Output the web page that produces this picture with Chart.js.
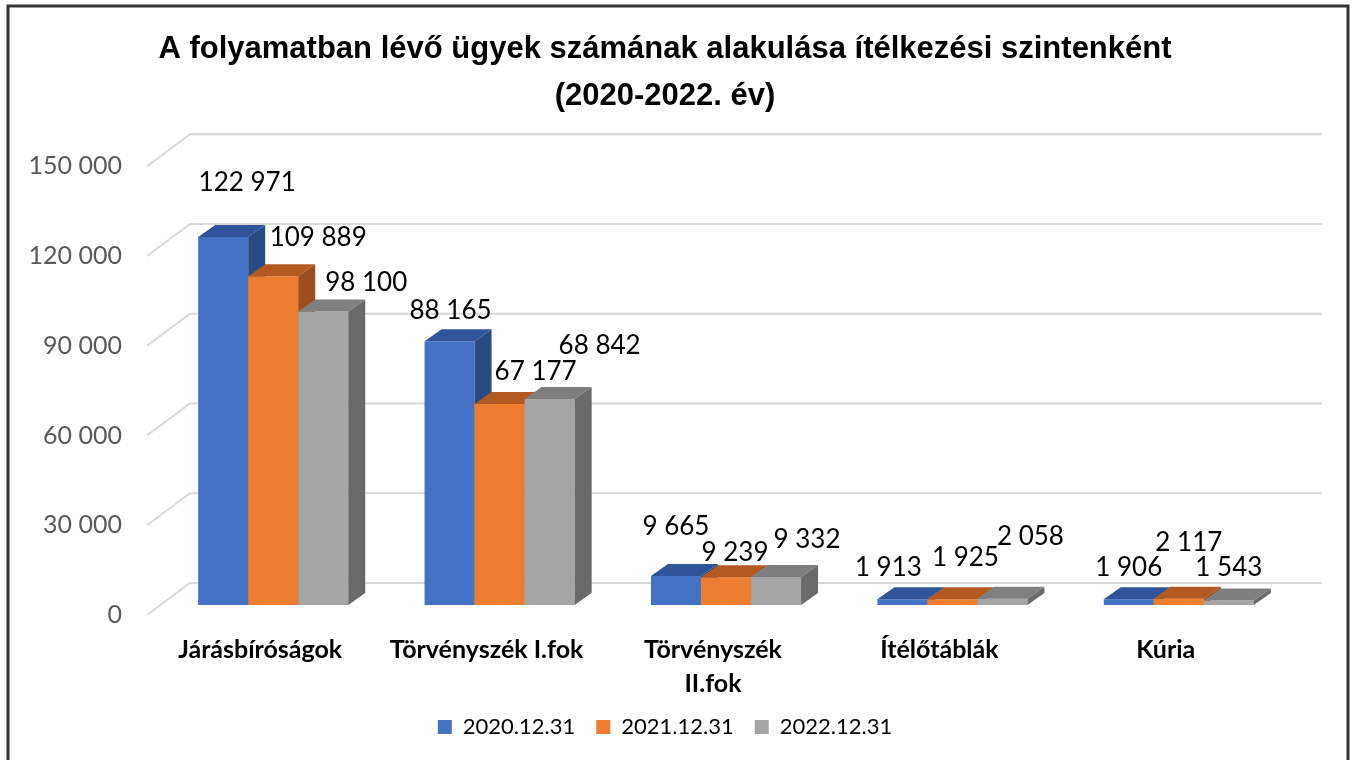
<!DOCTYPE html>
<html lang="hu">
<head>
    <meta charset="UTF-8">
    <title>Folyamatban lévő ügyek</title>
    <script src="https://cdn.jsdelivr.net/npm/chart.js"></script>
    <style>
        body { margin: 0; background: #fff; }
        #wrap { width: 1352px; height: 760px; }
    </style>
</head>
<body>
    <div id="wrap"><canvas id="chart" width="1352" height="760"></canvas></div>
    <script>
        const categories = ['Járásbíróságok', 'Törvényszék I.fok', ['Törvényszék', 'II.fok'], 'Ítélőtáblák', 'Kúria'];
        const seriesNames = ['2020.12.31', '2021.12.31', '2022.12.31'];
        const values2020 = [122971, 88165, 9665, 1913, 1906];
        const values2021 = [109889, 67177, 9239, 1925, 2117];
        const values2022 = [98100, 68842, 9332, 2058, 1543];
        const yTicks = [0, 30000, 60000, 90000, 120000, 150000];

        // front / top / side colours of each series
        const faceColors = [
            ['#4472C4', '#30549A', '#2A4A84'],
            ['#ED7D31', '#B35A22', '#9C4E1D'],
            ['#A5A5A5', '#7F7F7F', '#6A6A6A']
        ];

        // where Excel put each value label, relative to the bar's front top
        const labelNudge = [
            [[24, -54], [1, -31], [0, -49], [-14, -32], [0, -32]],
            [[45, -39], [36, -32], [9, -25], [13, -42], [10, -56]],
            [[43, -29], [50, -53], [31, -37], [28, -62], [0, -33]]
        ];

        const DX = 43, DY = -32;   // depth of the floor / walls
        const BX = 13, BY = -10;   // bar front sits a bit inside
        const TX = 17, TY = -12;   // bar depth

        function fmt(v) {
            return String(v).replace(/\B(?=(\d{3})+(?!\d))/g, ' ');
        }

        function poly(ctx, pts, color) {
            ctx.beginPath();
            ctx.moveTo(pts[0][0], pts[0][1]);
            for (let k = 1; k < pts.length; k++) ctx.lineTo(pts[k][0], pts[k][1]);
            ctx.closePath();
            ctx.fillStyle = color;
            ctx.fill();
        }

        const bars3d = {
            id: 'bars3d',
            beforeDatasetsDraw(chart) {
                const ctx = chart.ctx;
                const ys = chart.scales.y;
                const area = chart.chartArea;

                // back wall grid lines with the side wall diagonal
                ctx.save();
                ctx.strokeStyle = '#d9d9d9';
                ctx.lineWidth = 2;
                yTicks.forEach(v => {
                    const y = ys.getPixelForValue(v);
                    ctx.beginPath();
                    ctx.moveTo(area.left, y);
                    ctx.lineTo(area.left + DX, y + DY);
                    ctx.lineTo(area.right + DX, y + DY);
                    ctx.stroke();
                });

                // 3d bars, left to right so the next bar hides the side face
                for (let j = 0; j < categories.length; j++) {
                    chart.data.datasets.forEach((ds, i) => {
                        const el = chart.getDatasetMeta(i).data[j];
                        const L = el.x - el.width / 2 + BX;
                        const R = el.x + el.width / 2 + BX;
                        const T = el.y + BY;
                        const B = el.base + BY;
                        const c = faceColors[i];
                        poly(ctx, [[L, T], [R, T], [R, B], [L, B]], c[0]);
                        poly(ctx, [[L, T], [R, T], [R + TX, T + TY], [L + TX, T + TY]], c[1]);
                        poly(ctx, [[R, T], [R + TX, T + TY], [R + TX, B + TY], [R, B]], c[2]);
                    });
                }

                // value labels
                ctx.fillStyle = '#000';
                ctx.font = '26px Lato';
                ctx.textAlign = 'center';
                ctx.textBaseline = 'middle';
                chart.data.datasets.forEach((ds, i) => {
                    chart.getDatasetMeta(i).data.forEach((el, j) => {
                        const n = labelNudge[i][j];
                        ctx.fillText(fmt(ds.data[j]), el.x + BX + n[0], el.y + BY + n[1]);
                    });
                });
                ctx.restore();
                return false;
            },
            afterDraw(chart) {
                const ctx = chart.ctx;
                ctx.save();
                ctx.strokeStyle = '#333';
                ctx.lineWidth = 3;
                ctx.beginPath();
                ctx.moveTo(8, 760);
                ctx.lineTo(8, 6);
                ctx.lineTo(1348, 6);
                ctx.lineTo(1348, 760);
                ctx.stroke();
                ctx.restore();
            }
        };

        const ctx = document.getElementById('chart').getContext('2d');
        const chart = new Chart(ctx, {
            type: 'bar',
            data: {
                labels: categories,
                datasets: [
                    { label: seriesNames[0], data: values2020, backgroundColor: faceColors[0][0] },
                    { label: seriesNames[1], data: values2021, backgroundColor: faceColors[1][0] },
                    { label: seriesNames[2], data: values2022, backgroundColor: faceColors[2][0] }
                ]
            },
            plugins: [bars3d],
            options: {
                responsive: false,
                animation: false,
                layout: { padding: { left: 0, right: 22, top: 0, bottom: 12 } },
                datasets: {
                    bar: { categoryPercentage: 0.663, barPercentage: 1 }
                },
                scales: {
                    x: {
                        clip: false,
                        grid: { display: false },
                        border: { display: false },
                        ticks: {
                            color: '#000',
                            font: { family: 'Lato', weight: 'bold', size: 25, lineHeight: 1.36 },
                            padding: 10,
                            maxRotation: 0,
                            autoSkip: false
                        },
                        afterFit(scale) { scale.height = 80; }
                    },
                    y: {
                        min: 0,
                        max: 150000,
                        grid: { display: false },
                        border: { display: false },
                        ticks: {
                            stepSize: 30000,
                            color: '#595959',
                            font: { family: 'Lato', size: 25 },
                            padding: 17,
                            callback: v => fmt(v)
                        },
                        afterFit(scale) { scale.width = 147; }
                    },
                    yR: {
                        position: 'right',
                        grid: { display: false },
                        border: { display: false },
                        ticks: { display: false },
                        afterFit(scale) { scale.width = 51; }
                    }
                },
                plugins: {
                    tooltip: { enabled: false },
                    title: {
                        display: true,
                        text: ['A folyamatban lévő ügyek számának alakulása ítélkezési szintenként', '(2020-2022. év)'],
                        color: '#000',
                        font: { family: 'Liberation Sans', weight: 'bold', size: 31, lineHeight: 1.52 },
                        padding: { top: 26, bottom: 46 }
                    },
                    legend: {
                        position: 'bottom',
                        labels: {
                            boxWidth: 14,
                            boxHeight: 14,
                            color: '#000',
                            font: { family: 'Lato', size: 22 },
                            padding: 21
                        }
                    }
                }
            }
        });
    </script>
</body>
</html>
